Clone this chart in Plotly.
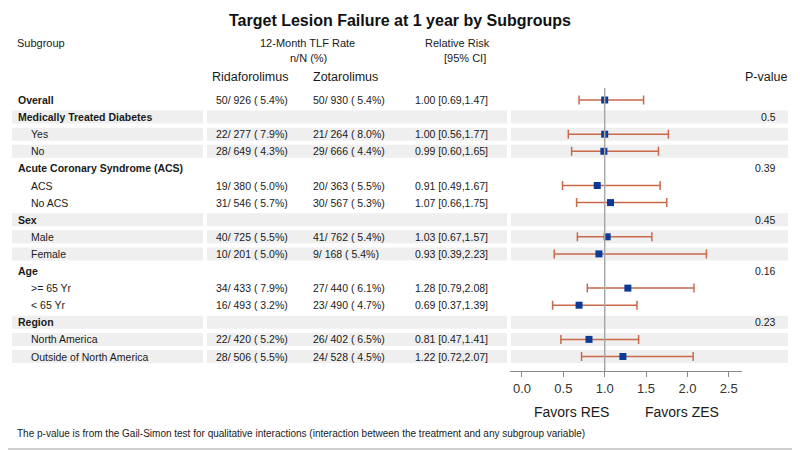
import plotly.graph_objects as go

# ---------------- data ----------------
labels = ["Overall", "Medically Treated Diabetes", "Yes", "No",
          "Acute Coronary Syndrome (ACS)", "ACS", "No ACS",
          "Sex", "Male", "Female",
          "Age", ">= 65 Yr", "< 65 Yr",
          "Region", "North America", "Outside of North America"]
is_header = [True, True, False, False, True, False, False, True, False, False,
             True, False, False, True, False, False]
rida_txt = ["50/ 926 ( 5.4%)", "", "22/ 277 ( 7.9%)", "28/ 649 ( 4.3%)", "",
            "19/ 380 ( 5.0%)", "31/ 546 ( 5.7%)", "", "40/ 725 ( 5.5%)",
            "10/ 201 ( 5.0%)", "", "34/ 433 ( 7.9%)", "16/ 493 ( 3.2%)", "",
            "22/ 420 ( 5.2%)", "28/ 506 ( 5.5%)"]
zota_txt = ["50/ 930 ( 5.4%)", "", "21/ 264 ( 8.0%)", "29/ 666 ( 4.4%)", "",
            "20/ 363 ( 5.5%)", "30/ 567 ( 5.3%)", "", "41/ 762 ( 5.4%)",
            "9/ 168 ( 5.4%)", "", "27/ 440 ( 6.1%)", "23/ 490 ( 4.7%)", "",
            "26/ 402 ( 6.5%)", "24/ 528 ( 4.5%)"]
rr = [1.00, None, 1.00, 0.99, None, 0.91, 1.07, None, 1.03, 0.93, None,
      1.28, 0.69, None, 0.81, 1.22]
lo = [0.69, None, 0.56, 0.60, None, 0.49, 0.66, None, 0.67, 0.39, None,
      0.79, 0.37, None, 0.47, 0.72]
hi = [1.47, None, 1.77, 1.65, None, 1.67, 1.75, None, 1.57, 2.23, None,
      2.08, 1.39, None, 1.41, 2.07]
pvals = ["", "0.5", "", "", "0.39", "", "", "0.45", "", "", "0.16", "", "",
         "0.23", "", ""]
tick_vals = [0.0, 0.5, 1.0, 1.5, 2.0, 2.5]
tick_text = ["0.0", "0.5", "1.0", "1.5", "2.0", "2.5"]

# ---------------- styles ----------------
W, H = 800, 450
OFF = 8  # page body margin offset
FONT = "Arial, 'Liberation Sans', sans-serif"
TXT = "#1a1a1a"
BLUE = "#0B3A99"
ORANGE = "#C8694A"
BAND = "#EFEFEF"

rows = list(range(len(labels)))
Y_TOP_PX, Y_BOT_PX = 88, 371
ROW0_PX, PITCH = 100, 17.1
y_lo = (Y_TOP_PX - ROW0_PX) / PITCH
y_hi = (Y_BOT_PX - ROW0_PX) / PITCH

def px(x):
    return (x - OFF) / W

def py(y):
    return 1 - (y - OFF) / H

fig = go.Figure()

idx = [i for i in rows if rr[i] is not None]
fig.add_trace(go.Scatter(
    x=[rr[i] for i in idx], y=[rows[i] for i in idx], mode="markers",
    marker=dict(symbol="square", size=7, color=BLUE),
    error_x=dict(type="data", symmetric=False,
                 array=[hi[i] - rr[i] for i in idx],
                 arrayminus=[rr[i] - lo[i] for i in idx],
                 color=ORANGE, thickness=1.5, width=4.5),
    hoverinfo="skip"))

shapes = []
# alternating group bands
grp = -1
for i in rows:
    if is_header[i] and i > 0:
        grp += 1
    if i > 0 and grp % 2 == 0:
        for x0, x1 in [(12, 203), (207, 507), (511, 788)]:
            shapes.append(dict(type="rect", xref="paper", yref="y",
                               x0=px(x0), x1=px(x1), y0=i - 0.38, y1=i + 0.38,
                               fillcolor=BAND, line=dict(width=0), layer="below"))
# reference line at 1
shapes.append(dict(type="line", xref="x", yref="y domain", x0=1, x1=1, y0=0, y1=1,
                   line=dict(color="#A8A8A8", width=1.5), layer="above"))
# outer border
shapes.append(dict(type="rect", xref="paper", yref="paper",
                   x0=px(1), x1=px(799), y0=py(449), y1=py(1),
                   line=dict(color="#CFCFCF", width=2), fillcolor="rgba(0,0,0,0)"))

ann = []

def add(text, x, y, size, xanchor="left", bold=False, yref="paper", color=TXT):
    if bold:
        text = "<b>" + text + "</b>"
    ann.append(dict(text=text, x=x, y=y, xref="paper", yref=yref,
                    xanchor=xanchor, yanchor="middle", showarrow=False,
                    font=dict(family=FONT, size=size, color=color)))

add("Target Lesion Failure at 1 year by Subgroups", px(400), py(21), 16, "center", bold=True, color="#111")
add("Subgroup", px(15), py(43), 11)
add("12-Month TLF Rate", px(307), py(43), 11, "center")
add("n/N (%)", px(308), py(58), 11, "center")
add("Relative Risk", px(457), py(43), 11, "center")
add("[95% CI]", px(465), py(58), 11, "center")
add("Ridaforolimus", px(249.5), py(77), 12.5, "center")
add("Zotarolimus", px(345.5), py(77), 12.5, "center")
add("P-value", px(789), py(77), 12.5, "right")

for i in rows:
    if is_header[i]:
        add(labels[i], px(16), i, 10.5, bold=True, yref="y")
    else:
        add(labels[i], px(29), i, 10.5, yref="y")
    if rida_txt[i]:
        add(rida_txt[i], px(214), i, 10.5, yref="y")
    if zota_txt[i]:
        add(zota_txt[i], px(311), i, 10.5, yref="y")
    if rr[i] is not None:
        add(f"{rr[i]:.2f} [{lo[i]:.2f},{hi[i]:.2f}]", px(413), i, 10.5, yref="y")
    if pvals[i]:
        add(pvals[i], px(778), i, 10.5, "right", yref="y")

add("Favors RES", px(571), py(412), 14, "center")
add("Favors ZES", px(682), py(412), 14, "center")
add("The p-value is from the Gail-Simon test for qualitative interactions "
    "(interaction between the treatment and any subgroup variable)",
    px(15), py(433), 10)

fig.update_layout(
    width=W, height=H, margin=dict(l=0, r=0, t=0, b=0),
    paper_bgcolor="white", plot_bgcolor="rgba(0,0,0,0)", showlegend=False,
    xaxis=dict(domain=[px(510), px(742)], range=[-0.145, 2.66],
               tickvals=tick_vals, ticktext=tick_text,
               showline=True, linecolor="#8A8A8A", linewidth=1,
               ticks="outside", ticklen=5, tickcolor="#8A8A8A",
               tickfont=dict(family=FONT, size=13, color="#333"),
               showgrid=False, zeroline=False, fixedrange=True),
    yaxis=dict(domain=[py(Y_BOT_PX), py(Y_TOP_PX)], range=[y_hi, y_lo],
               visible=False, fixedrange=True),
    shapes=shapes, annotations=ann,
)

fig.write_html("out.html")
